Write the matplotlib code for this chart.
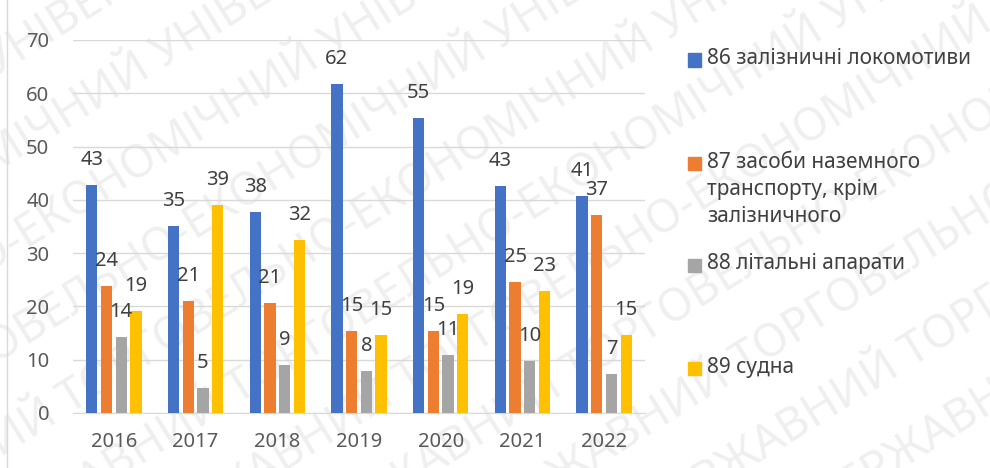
import matplotlib
matplotlib.use("Agg")
import matplotlib.pyplot as plt
from matplotlib.patches import Rectangle
import numpy as np

plt.rcParams['font.family'] = ['Noto Sans', 'DejaVu Sans']

years = ['2016', '2017', '2018', '2019', '2020', '2021', '2022']
series_names = ['86 залізничні локомотиви',
                '87 засоби наземного\nтранспорту, крім\nзалізничного',
                '88 літальні апарати',
                '89 судна']
locomotives = [42.8, 35.0, 37.8, 61.8, 55.3, 42.6, 40.8]
land_transport = [23.8, 21.1, 20.6, 15.4, 15.3, 24.6, 37.1]
aircraft = [14.2, 4.6, 9.1, 7.9, 10.8, 9.8, 7.3]
ships = [19.1, 39.0, 32.4, 14.6, 18.6, 22.9, 14.6]
colors = ['#4472C4', '#ED7D31', '#A5A5A5', '#FFC000']

series = [locomotives, land_transport, aircraft, ships]

fig = plt.figure(figsize=(9.9, 4.68), dpi=100)

# faint watermark behind the chart
wm = "ДТЕУ ДЕРЖАВНИЙ ТОРГОВЕЛЬНО-ЕКОНОМІЧНИЙ УНІВЕРСИТЕТ ДТЕУ ДЕРЖАВНИЙ"
for k in range(-6, 7):
    fig.text(0.05 + k * 0.17, -0.35 + k * 0.02, wm, rotation=32,
             fontsize=33, color='#efefef', ha='left', va='bottom',
             rotation_mode='anchor', zorder=0)

# chart border on the left
fig.add_artist(plt.Line2D([7 / 990, 7 / 990], [0, 1], color='#d9d9d9', lw=1))

ax = fig.add_axes([73 / 990, 1 - 413 / 468, 572 / 990, 373 / 468])
ax.set_zorder(2)
ax.patch.set_alpha(0)

x = np.arange(len(years))
width = 0.139
pitch = 0.18
for i, (vals, col) in enumerate(zip(series, colors)):
    pos = x + (i - 1.5) * pitch
    ax.bar(pos, vals, width, color=col, zorder=3)
    for px, v in zip(pos, vals):
        ax.annotate(f"{v:.0f}", xy=(px, v), xytext=(0, 18),
                    textcoords="offset points", ha='center', va='center',
                    fontsize=14.5, color='#404040', zorder=4)

ax.set_xlim(-0.5, 6.5)
ax.set_ylim(0, 70)
ax.set_yticks(range(0, 71, 10))
ax.set_xticks(x)
ax.set_xticklabels(years)
ax.grid(axis='y', color='#d9d9d9', lw=1, zorder=0)
for s in ['top', 'right', 'left']:
    ax.spines[s].set_visible(False)
ax.spines['bottom'].set_color('#d9d9d9')
ax.tick_params(axis='both', length=0, labelsize=14.5, labelcolor='#595959')
ax.tick_params(axis='y', pad=17)
ax.tick_params(axis='x', pad=14)

# legend drawn on the right like the original
legend_y = [60, 163, 265, 368]
for name, col, ly in zip(series_names, colors, legend_y):
    fig.add_artist(Rectangle((688 / 990, 1 - (ly + 6.5) / 468), 13 / 990, 13 / 468,
                             transform=fig.transFigure, color=col, zorder=3))
    fig.text(707 / 990, 1 - (ly - 11.5) / 468, name, ha='left', va='top',
             fontsize=15, color='#404040', linespacing=1.4, zorder=3)

plt.savefig("out.png", dpi=100)
